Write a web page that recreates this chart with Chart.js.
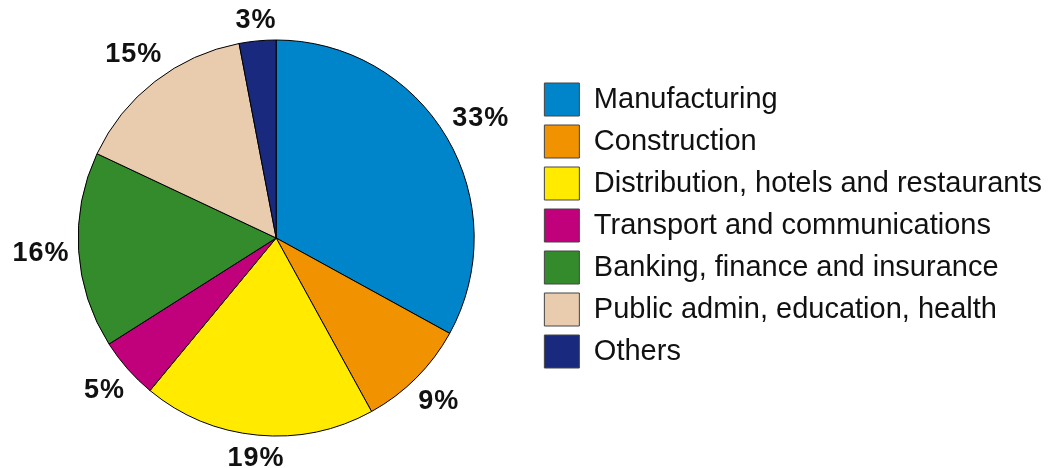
<!DOCTYPE html>
<html>
<head>
<meta charset="utf-8">
<script src="https://cdn.jsdelivr.net/npm/chart.js@4/dist/chart.umd.min.js"></script>
<style>
  html, body { margin: 0; padding: 0; background: #fff; }
  #wrap { width: 1050px; height: 468px; }
</style>
</head>
<body>
<div id="wrap"><canvas id="pieChart" width="1050" height="468"></canvas></div>
<script>
// 数据
const categories = [
    'Manufacturing',
    'Construction',
    'Distribution, hotels and restaurants',
    'Transport and communications',
    'Banking, finance and insurance',
    'Public admin, education, health',
    'Others'
];
const shares = [33, 9, 19, 5, 16, 15, 3];
const sliceColors = ['#0085ca', '#f19200', '#ffea00', '#c1007b', '#348b2b', '#e9cbad', '#18297e'];

const FONT_FAMILY = '"Liberation Sans", Arial, Helvetica, sans-serif';

// 饼图外侧的百分比标签
const outsideLabels = {
    id: 'outsideLabels',
    afterDatasetsDraw(chart) {
        const ctx = chart.ctx;
        const meta = chart.getDatasetMeta(0);
        ctx.save();
        ctx.font = 'bold 27px ' + FONT_FAMILY;
        ctx.letterSpacing = '1px';
        ctx.fillStyle = '#111';
        ctx.textAlign = 'center';
        ctx.textBaseline = 'middle';
        meta.data.forEach((arc, i) => {
            const { x, y, startAngle, endAngle, outerRadius } = arc.getProps(['x', 'y', 'startAngle', 'endAngle', 'outerRadius'], true);
            const mid = (startAngle + endAngle) / 2;
            const dx = Math.cos(mid);
            const dy = Math.sin(mid);
            const text = shares[i] + '%';
            const hw = ctx.measureText(text).width / 2;
            const hh = 11;
            const dist = outerRadius + 9 + Math.abs(dx) * hw + Math.abs(dy) * hh;
            ctx.fillText(text, x + dx * dist + 0.5, y + dy * dist + 1);
        });
        ctx.restore();
    }
};

const ctx = document.getElementById('pieChart').getContext('2d');
new Chart(ctx, {
    type: 'pie',
    data: {
        labels: categories,
        datasets: [{
            data: shares,
            backgroundColor: sliceColors,
            borderColor: '#000',
            borderWidth: 1
        }]
    },
    options: {
        responsive: false,
        animation: false,
        radius: 198,
        layout: {
            padding: { left: 17, right: -2, top: 40, bottom: 32 }
        },
        plugins: {
            legend: {
                position: 'right',
                align: 'start',
                title: {
                    display: true,
                    text: '',
                    font: { size: 10 },
                    padding: { top: 22, bottom: 0 }
                },
                labels: {
                    boxWidth: 35,
                    boxHeight: 33,
                    padding: 9,
                    font: { size: 29, family: FONT_FAMILY },
                    generateLabels(chart) {
                        return categories.map((name, i) => ({
                            text: name,
                            fillStyle: sliceColors[i],
                            strokeStyle: '#444',
                            fontColor: '#111',
                            lineWidth: 1,
                            hidden: false,
                            index: i
                        }));
                    }
                }
            },
            tooltip: { enabled: false }
        }
    },
    plugins: [outsideLabels]
});
</script>
</body>
</html>
